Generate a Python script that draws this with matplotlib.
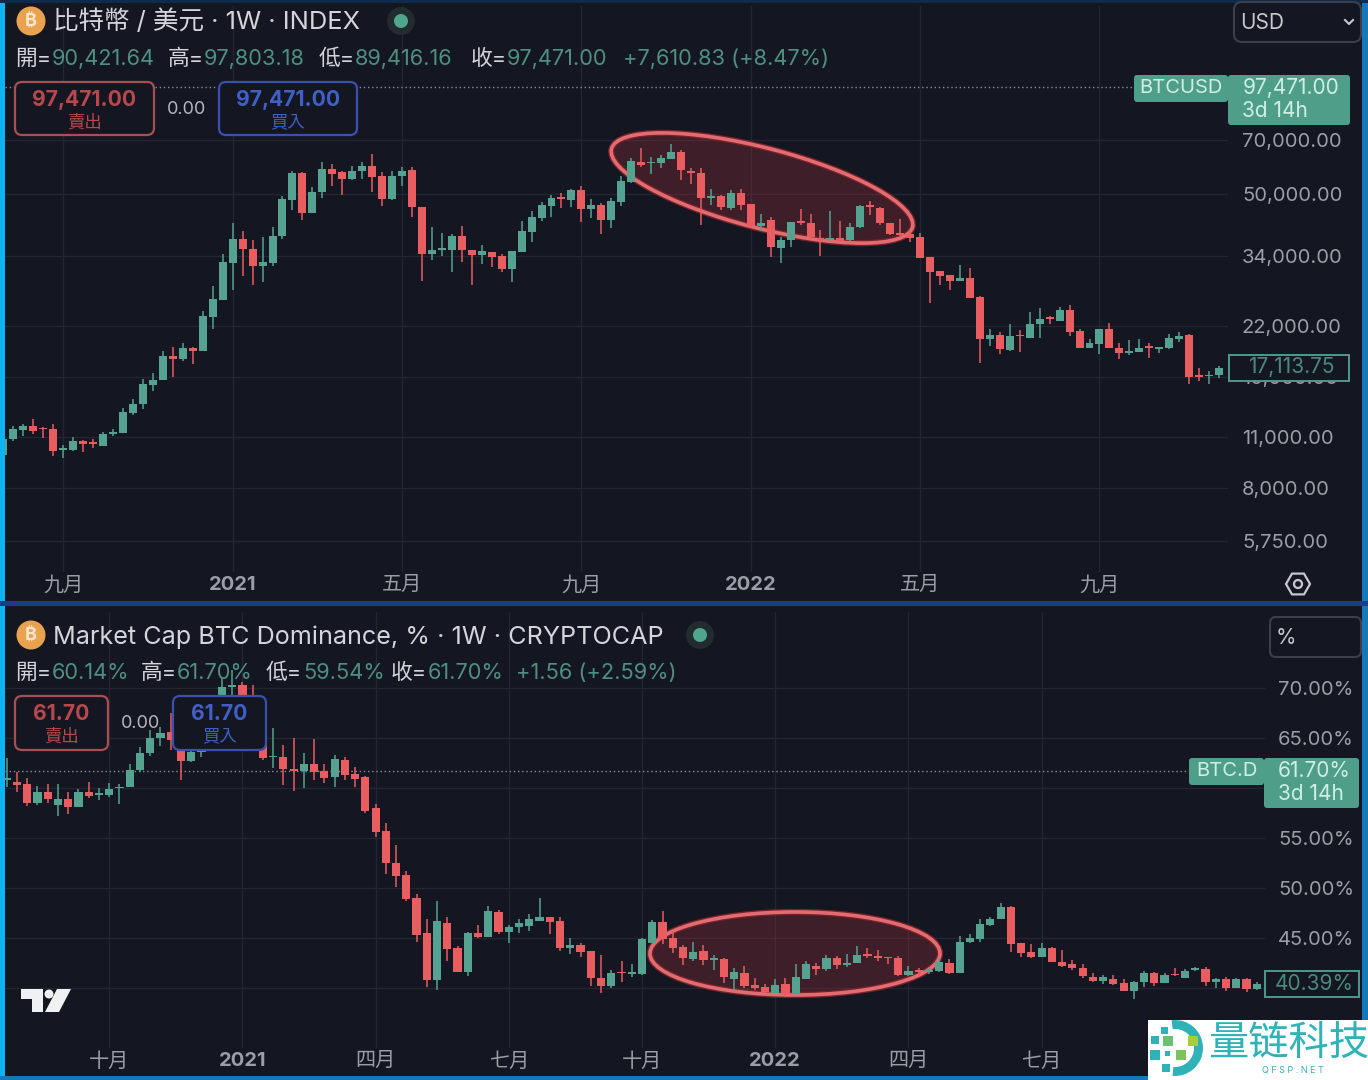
import matplotlib
matplotlib.use('Agg')
import matplotlib.pyplot as plt
from matplotlib.patches import Ellipse, FancyBboxPatch, Rectangle, Circle, Polygon, Wedge, RegularPolygon

plt.rcParams['font.family'] = ['Inter', 'Noto Sans CJK TC', 'DejaVu Sans']

# weekly candles
btc_open = [9800, 10870, 11450, 11800, 11650, 11580, 10140, 10140, 10750, 10640,
            10400, 11200, 11270, 12800, 13500, 15200, 15720, 18250, 17930, 19100,
            18820, 23200, 25900, 32600, 37800, 35500, 32000, 32500, 38400, 48200,
            56900, 44500, 50500, 58300, 57200, 54800, 57800, 59400, 55900, 48400,
            55900, 58100, 46000, 34400, 35300, 35300, 38400, 35200, 34200, 34900,
            33900, 31300, 34900, 39400, 43000, 46400, 49000, 48200, 51300, 45500,
            46800, 42500, 47700, 53900, 60900, 60600, 60600, 62300, 65000, 57800,
            56900, 48700, 49500, 45700, 50400, 46900, 41000, 42500, 35700, 37600,
            42300, 41600, 38000, 37600, 38000, 37600, 40700, 46700, 45900, 41700,
            39300, 38900, 38200, 33800, 31000, 30100, 29000, 29600, 26300, 20200,
            20700, 18900, 20800, 20400, 22200, 23200, 22700, 24200, 21300, 19200,
            19600, 21600, 19100, 18500, 18700, 19400, 19000, 19100, 20200, 20700,
            16200, 16100, 16200]
btc_high = [11030, 11750, 11950, 12330, 11700, 11950, 10480, 10970, 10800, 10870,
            11320, 11580, 13200, 13950, 15800, 16350, 18820, 19280, 19700, 19250,
            24100, 28100, 34400, 41600, 39800, 37600, 38200, 40700, 49400, 57800,
            57500, 52100, 61000, 60300, 57800, 59500, 60900, 64100, 57200, 57800,
            59100, 59100, 46000, 40700, 39200, 39000, 41000, 35200, 36300, 34900,
            34400, 35100, 42300, 45100, 47700, 49600, 50200, 51700, 52600, 48400,
            47200, 48700, 56100, 62400, 66500, 63100, 63700, 68300, 65800, 58700,
            58700, 51500, 49700, 51300, 51700, 46900, 44100, 43200, 38200, 42100,
            45500, 44200, 40000, 45100, 42300, 41700, 46700, 47900, 46200, 41700,
            42700, 40000, 39300, 33800, 31000, 30200, 32200, 31500, 26400, 21600,
            21100, 22200, 21400, 23900, 24500, 23400, 24700, 25000, 21600, 20300,
            21600, 22400, 19700, 20100, 20200, 19800, 19300, 20900, 21200, 20900,
            16900, 16600, 17100]
btc_low = [9680, 10700, 11030, 11200, 10930, 9740, 9650, 10100, 9980, 10280,
           10360, 11030, 11250, 12640, 13050, 14650, 15650, 16000, 17650, 17300,
           18750, 21600, 25800, 27500, 29900, 28400, 28800, 32000, 37800, 45300,
           42500, 44500, 48700, 52400, 49700, 54600, 54800, 50500, 46400, 48200,
           52400, 43200, 29100, 33100, 33900, 30700, 32800, 28400, 32400, 31800,
           30700, 28900, 34900, 37000, 42300, 43400, 45900, 46000, 42000, 43000,
           39000, 40400, 46400, 53700, 59100, 56600, 58900, 62000, 54600, 53100,
           41200, 46700, 45300, 45300, 45300, 40400, 39700, 33800, 32500, 36000,
           41200, 37800, 33900, 37400, 37100, 37400, 40400, 43900, 41200, 38800,
           38600, 37100, 33600, 25300, 28400, 27500, 29000, 26100, 17400, 19400,
           18400, 18800, 18700, 20400, 20400, 22200, 22600, 20600, 19200, 19200,
           18400, 19100, 17900, 18300, 18700, 18000, 18500, 19000, 19900, 15300,
           15600, 15300, 15900]
btc_close = [10870, 11520, 11800, 11400, 11520, 10050, 10250, 10750, 10530, 10530,
             11200, 11320, 12850, 13520, 15300, 15720, 18250, 17930, 19100, 18820,
             23300, 26000, 32700, 37800, 35500, 31900, 32700, 38600, 48400, 56900,
             44500, 50500, 58300, 56600, 54800, 57800, 59400, 55500, 48400, 56000,
             57800, 46000, 34300, 35300, 35600, 38400, 35200, 34200, 35100, 33800,
             31300, 35100, 39700, 43400, 46600, 48800, 48600, 51300, 45500, 46800,
             42500, 47900, 54300, 61300, 59900, 61000, 62600, 65000, 58100, 56900,
             48900, 49400, 46000, 50400, 46700, 41000, 41600, 35900, 37600, 42100,
             41700, 38200, 37600, 38000, 37400, 40600, 46400, 46000, 41600, 39000,
             38800, 38000, 33600, 30800, 29900, 29000, 29600, 26200, 20200, 20700,
             19000, 20600, 20600, 22300, 23000, 22900, 24200, 21100, 19200, 19700,
             21600, 19100, 18500, 18800, 19100, 19200, 19300, 20400, 20600, 16000,
             16000, 16200, 16900]

dom_open = [60.8, 60.6, 60.4, 58.5, 59.6, 58.3, 58.9, 58.1, 59.6, 59.3,
            59.3, 60.0, 60.1, 61.8, 63.5, 65.0, 65.6, 63.8, 62.7, 63.6,
            64.3, 68.3, 70.1, 70.3, 69.3, 66.1, 63.1, 63.1, 61.9, 61.7,
            62.4, 61.7, 61.1, 62.8, 61.4, 61.1, 58.0, 55.7, 52.5, 51.3,
            49.0, 45.5, 40.8, 46.5, 44.0, 41.6, 45.5, 45.1, 47.6, 45.6,
            46.1, 46.2, 46.7, 47.1, 46.7, 44.0, 44.3, 43.7, 41.0, 40.2,
            41.6, 41.4, 41.4, 44.5, 46.6, 45.0, 44.1, 42.9, 43.7, 42.8,
            42.9, 40.9, 41.5, 40.3, 40.1, 39.5, 40.4, 39.4, 40.9, 42.2,
            41.9, 43.0, 42.3, 42.5, 43.4, 43.2, 43.1, 43.0, 41.3, 41.8,
            41.6, 41.7, 42.5, 41.5, 44.6, 44.9, 46.3, 46.9, 48.1, 44.5,
            43.6, 43.1, 44.0, 42.6, 42.4, 42.0, 41.1, 40.7, 40.9, 40.5,
            39.7, 40.6, 41.5, 40.5, 41.4, 41.0, 41.8, 41.9, 40.6, 40.9,
            40.0, 40.9, 39.9]
dom_high = [63.0, 61.6, 61.0, 60.2, 60.4, 60.4, 59.6, 59.9, 60.6, 60.0,
            60.5, 60.4, 62.4, 64.1, 65.8, 66.1, 67.5, 64.8, 64.5, 64.8,
            68.8, 71.1, 71.8, 70.6, 70.3, 66.8, 66.0, 64.3, 65.0, 63.5,
            64.9, 62.4, 63.3, 63.1, 62.1, 61.2, 58.4, 56.5, 54.3, 51.7,
            49.4, 46.9, 48.7, 47.1, 44.2, 45.6, 46.3, 48.2, 47.8, 46.3,
            46.9, 47.4, 49.0, 47.1, 47.1, 45.0, 44.5, 43.7, 43.3, 41.8,
            42.7, 42.4, 45.0, 46.8, 47.7, 45.7, 44.3, 44.6, 44.3, 43.3,
            43.0, 42.0, 42.2, 41.0, 40.4, 40.9, 41.0, 42.4, 42.7, 42.5,
            43.3, 43.2, 43.4, 44.2, 44.0, 43.8, 43.1, 43.2, 42.2, 42.0,
            42.1, 43.0, 42.9, 45.2, 45.4, 46.9, 47.1, 48.5, 48.2, 44.5,
            44.4, 44.5, 44.1, 43.8, 42.8, 42.4, 41.5, 41.3, 41.3, 40.9,
            40.7, 41.7, 41.6, 41.5, 42.0, 41.9, 42.1, 42.1, 41.0, 41.1,
            41.0, 41.0, 40.6]
dom_low = [60.1, 59.6, 58.2, 58.3, 58.5, 57.2, 57.4, 58.1, 59.0, 58.8,
           59.1, 58.4, 60.1, 61.6, 63.2, 64.2, 63.8, 60.8, 62.6, 63.1,
           64.1, 68.1, 68.8, 68.8, 65.8, 62.8, 62.0, 60.3, 59.7, 60.0,
           60.8, 60.5, 60.1, 60.8, 60.1, 57.5, 55.1, 51.4, 50.1, 48.7,
           44.6, 40.1, 39.8, 42.7, 41.6, 41.2, 45.0, 45.1, 45.4, 44.5,
           45.5, 45.7, 46.7, 45.4, 43.7, 43.4, 43.1, 40.2, 39.5, 40.0,
           40.6, 41.1, 41.3, 44.5, 44.4, 43.5, 42.3, 42.7, 42.3, 41.8,
           40.5, 39.8, 40.0, 39.8, 39.5, 39.5, 39.1, 39.3, 40.9, 41.3,
           41.7, 41.9, 42.1, 42.5, 43.0, 42.7, 42.4, 41.2, 41.2, 41.2,
           41.4, 41.6, 41.4, 41.5, 44.5, 44.6, 46.2, 46.9, 43.6, 43.1,
           43.0, 43.1, 42.6, 42.1, 41.8, 41.0, 40.6, 40.4, 40.3, 39.7,
           38.9, 40.1, 40.2, 40.5, 41.2, 41.0, 41.7, 40.2, 40.0, 39.7,
           40.0, 39.6, 39.8]
dom_close = [61.0, 60.3, 58.5, 59.6, 58.9, 58.9, 58.1, 59.6, 59.2, 59.5,
             59.9, 60.1, 61.8, 63.5, 65.0, 65.5, 64.8, 62.7, 63.6, 64.3,
             68.3, 70.1, 70.3, 69.3, 66.1, 63.0, 63.2, 61.9, 61.7, 62.4,
             61.6, 61.0, 62.9, 61.3, 60.9, 57.7, 55.6, 52.5, 51.2, 48.9,
             45.3, 40.8, 46.7, 43.9, 41.6, 45.5, 45.1, 47.7, 45.6, 46.1,
             46.5, 46.9, 47.1, 46.6, 44.0, 44.3, 43.6, 41.0, 40.2, 41.5,
             41.5, 41.6, 44.9, 46.6, 44.9, 44.0, 43.0, 43.6, 42.8, 43.0,
             41.1, 41.6, 40.2, 40.0, 39.6, 40.3, 39.4, 41.1, 42.4, 41.9,
             43.0, 42.3, 42.5, 43.3, 43.2, 43.0, 43.0, 41.3, 41.7, 41.6,
             41.8, 42.6, 41.5, 44.6, 45.0, 46.4, 46.9, 48.1, 44.4, 43.5,
             43.1, 44.0, 42.6, 42.2, 42.0, 41.2, 40.7, 41.1, 40.4, 39.7,
             40.6, 41.5, 40.5, 41.3, 41.3, 41.7, 42.0, 40.6, 40.9, 40.0,
             40.9, 39.9, 40.4]

btc_ticks = [70000, 50000, 34000, 22000, 16000, 11000, 8000, 5750]
btc_tick_labels = ['70,000.00', '50,000.00', '34,000.00', '22,000.00', '16,000.00',
                   '11,000.00', '8,000.00', '5,750.00']
# 60 and 40 have a grid line, their labels sit under the price boxes
dom_ticks = [70, 65, 60, 55, 50, 45, 40]
dom_tick_labels = ['70.00%', '65.00%', '', '55.00%', '50.00%', '45.00%', '']

btc_weeks = [6, 23, 40, 58, 75, 92, 110]
btc_week_labels = ['九月', '2021', '五月', '九月', '2022', '五月', '九月']
dom_weeks = [10, 23, 36, 49, 62, 75, 88, 101]
dom_week_labels = ['十月', '2021', '四月', '七月', '十月', '2022', '四月', '七月']

btc_last = 97471.00
dom_last = 61.70

BG = '#141721'
GRID = '#232631'
GREEN = '#54a28f'
RED = '#e95c60'
AXIS_TXT = '#9c9ea6'
W, H = 1368, 1080

fig = plt.figure(figsize=(W / 100, H / 100), dpi=100, facecolor=BG)


def pixel_axes(left, top, right, bottom):
    ax = fig.add_axes([left / W, 1 - bottom / H, (right - left) / W, (bottom - top) / H])
    ax.set_facecolor(BG)
    for s in ax.spines.values():
        s.set_visible(False)
    return ax


def candles(ax, o, h, l, c):
    for i in range(len(o)):
        col = GREEN if c[i] >= o[i] else RED
        ax.vlines(i, l[i], h[i], color=col, lw=1.1, zorder=3)
        ax.bar(i, abs(c[i] - o[i]), bottom=min(o[i], c[i]), width=0.8, color=col, lw=0, zorder=4)


def style_axis(ax, yticks, ylabels, weeks, week_labels, pad_right):
    ax.grid(True, color=GRID, lw=1)
    ax.set_axisbelow(True)
    ax.yaxis.tick_right()
    ax.set_yticks(yticks)
    ax.set_yticklabels(ylabels, fontsize=14.5, color=AXIS_TXT)
    ax.minorticks_off()
    ax.set_xticks(weeks)
    ax.set_xticklabels(week_labels, fontsize=14.5, color=AXIS_TXT)
    for lab in ax.get_xticklabels():
        if lab.get_text().startswith('20'):
            lab.set_fontweight('bold')
    ax.tick_params(axis='y', length=0, pad=pad_right)
    ax.tick_params(axis='x', length=0, pad=3)


# top chart
ax1 = pixel_axes(5, 6, 1228, 572)
ax1.set_yscale('log')
candles(ax1, btc_open, btc_high, btc_low, btc_close)
ax1.set_xlim(0.15, 122.9)
ax1.set_ylim(4738, 161400)
style_axis(ax1, btc_ticks, btc_tick_labels, btc_weeks, btc_week_labels, 10)
ax1.axhline(btc_last, color='#8a8d96', lw=1, ls=(0, (1, 2)), zorder=2)

# bottom chart
ax2 = pixel_axes(5, 612, 1265, 1048)
candles(ax2, dom_open, dom_high, dom_low, dom_close)
ax2.set_xlim(-0.17, 122.8)
ax2.set_ylim(34.0, 77.6)
style_axis(ax2, dom_ticks, dom_tick_labels, dom_weeks, dom_week_labels, 9.4)
ax2.axhline(dom_last, color='#8a8d96', lw=1, ls=(0, (1, 2)), zorder=2)

# everything drawn over the charts, in picture pixels
top = fig.add_axes([0, 0, 1, 1], zorder=10)
top.set_xlim(0, W)
top.set_ylim(H, 0)
top.axis('off')
top.patch.set_alpha(0)


def txt(x, y, s, col='#d4d5da', size=15.7, ha='left', **kw):
    top.text(x, y + 1, s, color=col, fontsize=size, ha=ha, va='center', **kw)


def box(x0, y0, x1, y1, fc, ec, r=7, lw=1.5, alpha=None):
    top.add_patch(FancyBboxPatch((x0, y0), x1 - x0, y1 - y0, boxstyle='round,pad=0,rounding_size=%d' % r,
                                 fc=fc, ec=ec, lw=lw, alpha=alpha))


def coin(x, y):
    top.add_patch(Circle((x, y), 14.5, fc='#e9a24e', ec='none'))
    top.text(x, y, '₿', color='#f7e6cf', fontsize=13, fontweight='bold', ha='center', va='center',
             family=['Inter', 'Noto Sans', 'Open Sans', 'Roboto'])


def status_dot(x, y):
    top.add_patch(Circle((x, y), 14, fc='#222b2e', ec='none'))
    top.add_patch(Circle((x, y), 7, fc='#4fa58e', ec='none'))


def order_box(x0, x1, y0, y1, price, col_edge, col_txt, word):
    box(x0, y0, x1, y1, BG, col_edge, lw=1.6)
    xc = (x0 + x1) / 2
    txt(xc, y0 + 17, price, col_txt, 15.2, 'center', fontweight='bold')
    txt(xc, y0 + 40, word, col_txt, 12.5, 'center')


# ellipses sit behind the candles, placed in picture pixels
for ax, xy, w, h, a in [(ax1, (762, 188), 311, 80, 14.6), (ax2, (795, 953.5), 290, 83, 0)]:
    ax.add_patch(Ellipse(xy, w, h, angle=a, fc=(0.75, 0.2, 0.25, 0.25), ec='none', transform=top.transData, zorder=2))
    ax.add_patch(Ellipse(xy, w, h, angle=a, fc='none', ec='#7e2029', lw=4.5, transform=top.transData, zorder=2))
    ax.add_patch(Ellipse(xy, w, h, angle=a, fc='none', ec='#df6d72', lw=2.6, transform=top.transData, zorder=2))

# frame stripes
top.add_patch(Rectangle((0, 0), 5, H, fc='#0db4f3', ec='none'))
top.add_patch(Rectangle((1362, 0), 6, H, fc='#1479bb', ec='none'))
top.add_patch(Rectangle((0, 0), W, 3, fc='#0e2b4a', ec='none'))
top.add_patch(Rectangle((0, 601), W, 5, fc='#1b3d86', ec='none'))
top.add_patch(Rectangle((0, 1076), W, 4, fc='#1479bb', ec='none'))

# headers
coin(31, 21)
txt(53, 21, '比特幣 / 美元 · 1W · INDEX', size=18.4)
status_dot(401, 21)
VAL = '#4f8f80'
for x, s, col in [(15, '開=', None), (52, '90,421.64', VAL), (168, '高=', None), (204, '97,803.18', VAL),
                  (319, '低=', None), (355, '89,416.16', VAL), (471, '收=', None), (507, '97,471.00', VAL),
                  (623, '+7,610.83 (+8.47%)', VAL)]:
    txt(x, 58, s, col or '#d4d5da')
coin(31, 635)
txt(53, 636, 'Market Cap BTC Dominance, % · 1W · CRYPTOCAP', size=18.1)
status_dot(700, 635)
for x, s, col in [(15, '開=', None), (52, '60.14%', VAL), (141, '高=', None), (177, '61.70%', VAL),
                  (266, '低=', None), (303, '59.54%', VAL), (391, '收=', None), (428, '61.70%', VAL),
                  (516, '+1.56 (+2.59%)', VAL)]:
    txt(x, 672, s, col or '#d4d5da')

# buy and sell boxes
order_box(15, 154, 82, 135, '97,471.00', '#a84f55', '#b8484c', '賣出')
order_box(219, 357, 82, 135, '97,471.00', '#3a50ad', '#4060c8', '買入')
txt(186, 108, '0.00', '#b5b7bd', 13, 'center')
order_box(15, 108, 696, 750, '61.70', '#a84f55', '#b8484c', '賣出')
order_box(173, 266, 696, 750, '61.70', '#3a50ad', '#4060c8', '買入')
txt(141, 723, '0.00', '#b5b7bd', 13, 'center')

# currency selectors
box(1234, 2, 1361, 42, BG, '#3c3f4a', r=8)
txt(1240, 22, 'USD', '#c6c8ce', 15)
top.plot([1345, 1349, 1353], [20, 24, 20], color='#c6c8ce', lw=1.5)
box(1270, 617, 1361, 657, BG, '#3c3f4a', r=6)
txt(1276, 637, '%', '#c6c8ce', 15)

# price labels
LBL = '#4e9e89'
LBL_T = '#cfeee4'
box(1134, 75, 1228, 102, LBL, 'none', r=3)
txt(1181, 87, 'BTCUSD', LBL_T, 14.5, 'center')
box(1228, 75, 1350, 125, LBL, 'none', r=3)
txt(1291, 87, '97,471.00', LBL_T, 15, 'center')
txt(1242, 110, '3d 14h', LBL_T, 15)
box(1189, 758, 1264, 785, LBL, 'none', r=3)
txt(1227, 770, 'BTC.D', LBL_T, 14.5, 'center')
box(1264, 758, 1359, 808, LBL, 'none', r=3)
txt(1314, 770, '61.70%', LBL_T, 15, 'center')
txt(1278, 793, '3d 14h', LBL_T, 15)
top.add_patch(Rectangle((1229, 355), 120, 26, fc=BG, ec='#4f9a8a', lw=1.4))
txt(1291, 366, '17,113.75', '#4a8a7a', 15, 'center')
top.add_patch(Rectangle((1265, 971), 94, 26, fc=BG, ec='#4f9a8a', lw=1.4))
txt(1314, 983, '40.39%', '#4a8a7a', 15, 'center')

# settings hexagon
top.add_patch(RegularPolygon((1298, 584), 6, radius=12, orientation=0.52, fc='none', ec='#c6c8ce', lw=1.6))
top.add_patch(Circle((1298, 584), 4, fc='none', ec='#c6c8ce', lw=1.6))

# tradingview mark
top.add_patch(Polygon([(21, 989), (43, 989), (43, 1012), (32, 1012), (32, 999), (21, 999)], fc='#f0f1f3', ec='none'))
top.add_patch(Circle((49, 994), 4.5, fc='#f0f1f3', ec='none'))
top.add_patch(Polygon([(45, 1012), (57, 989), (71, 989), (59, 1012)], fc='#f0f1f3', ec='none'))

# watermark corner
top.add_patch(Rectangle((1148, 1020), 220, 60, fc='white', ec='none'))
top.add_patch(Wedge((1175, 1048), 28, -97, 95, width=9, fc='#2fb3b8', ec='none'))
for x, y, s, col in [(1164, 1030, 7, '#2fb3b8'), (1155, 1040, 8, '#2fb3b8'), (1168, 1041, 10, '#6cc070'),
                     (1193, 1041, 10, '#a8cc40'), (1167, 1053, 5, '#2fb3b8'), (1155, 1055, 10, '#2fb3b8'),
                     (1181, 1055, 10, '#7cc45c'), (1166, 1068, 8, '#2fb3b8')]:
    top.add_patch(Rectangle((x - s / 2, y - s / 2), s, s, fc=col, ec='none'))
top.text(1289, 1043, '量链科技', color='#2fb3b8', fontsize=29, ha='center', va='center', family='Noto Sans CJK SC')
top.text(1293, 1070, 'Q F S P . N E T', color='#2fb3b8', fontsize=6.5, ha='center', va='center')

fig.savefig('out.png', dpi=100, facecolor=BG)
